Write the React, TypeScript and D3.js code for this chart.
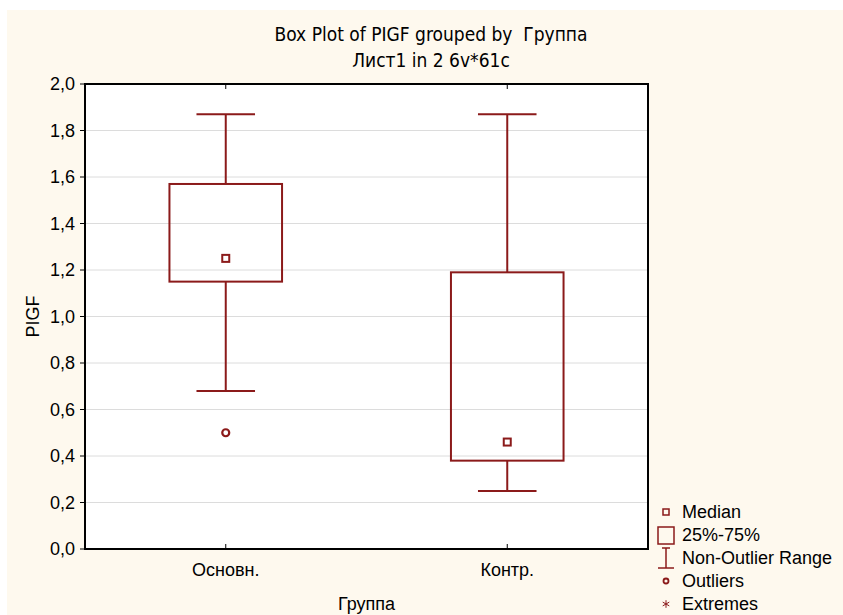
import React, { useRef, useEffect } from "react"
import * as d3 from "d3"

// data
const groups = ["Основн.", "Контр."]
const medians = [1.25, 0.46]
const q25 = [1.15, 0.38]
const q75 = [1.57, 1.19]
const whiskLow = [0.68, 0.25]
const whiskHigh = [1.87, 1.87]
const outliers = [[0.5], []]
const yTicks = [0, 0.2, 0.4, 0.6, 0.8, 1.0, 1.2, 1.4, 1.6, 1.8, 2.0]
const legendItems = ["Median", "25%-75%", "Non-Outlier Range", "Outliers", "Extremes"]

const W = 843
const H = 615
const RED = "#8b1a1a"
const FONT = "'Liberation Sans', Arial, sans-serif"
const NARROW = "'Liberation Sans Narrow', 'DejaVu Sans Condensed', sans-serif"

const App = () => {
    const ref = useRef<SVGSVGElement>(null)

    useEffect(() => {
        const svg = d3.select(ref.current)
        svg.selectAll("*").remove()

        const left = 85, right = 648, top = 84, bottom = 549

        const x = d3.scalePoint<string>().domain(groups).range([left, right]).padding(0.5)
        const y = d3.scaleLinear().domain([0, 2]).range([bottom, top])
        const fmt = (v: number) => d3.format(".1f")(v).replace(".", ",")
        const boxW = (right - left) * 0.2
        const capW = boxW * 0.52

        // page background
        svg.append("rect").attr("x", 7).attr("y", 10).attr("width", W - 7).attr("height", H - 10).attr("fill", "#fef9ee")

        // titles
        svg.append("text").attr("x", 431).attr("y", 41).attr("text-anchor", "middle")
            .style("font-family", NARROW).style("font-size", "19px").style("white-space", "pre")
            .text("Box Plot of PIGF grouped by  Группа")
        svg.append("text").attr("x", 431).attr("y", 67).attr("text-anchor", "middle")
            .style("font-family", NARROW).style("font-size", "19px").text("Лист1 in 2 6v*61c")

        // plot area
        svg.append("rect").attr("x", left).attr("y", top).attr("width", right - left).attr("height", bottom - top).attr("fill", "#fff")

        svg.append("g").selectAll("line").data(yTicks.slice(1, -1)).enter().append("line")
            .attr("x1", left).attr("x2", right).attr("y1", d => y(d)).attr("y2", d => y(d))
            .attr("stroke", "#dcdcdc").attr("stroke-width", 1)

        // y axis ticks + labels
        const yAxis = svg.append("g")
        yAxis.selectAll("line").data(yTicks).enter().append("line")
            .attr("x1", left - 5).attr("x2", left).attr("y1", d => y(d)).attr("y2", d => y(d))
            .attr("stroke", "#000")
        yAxis.selectAll("text").data(yTicks).enter().append("text")
            .attr("x", left - 10).attr("y", d => y(d)).attr("dy", "0.35em").attr("text-anchor", "end")
            .style("font-family", FONT).style("font-size", "18px").text(d => fmt(d))

        // x ticks (inward, top and bottom) + labels
        const xAxis = svg.append("g")
        xAxis.selectAll("line.b").data(groups).enter().append("line").attr("class", "b")
            .attr("x1", d => x(d)!).attr("x2", d => x(d)!).attr("y1", bottom).attr("y2", bottom - 5).attr("stroke", "#000")
        xAxis.selectAll("line.t").data(groups).enter().append("line").attr("class", "t")
            .attr("x1", d => x(d)!).attr("x2", d => x(d)!).attr("y1", top).attr("y2", top + 5).attr("stroke", "#000")
        xAxis.selectAll("text").data(groups).enter().append("text")
            .attr("x", d => x(d)!).attr("y", bottom + 27).attr("text-anchor", "middle")
            .style("font-family", FONT).style("font-size", "18px").text(d => d)

        svg.append("text").attr("x", (left + right) / 2).attr("y", 610).attr("text-anchor", "middle")
            .style("font-family", FONT).style("font-size", "18px").text("Группа")
        svg.append("text").attr("transform", `translate(39, ${(top + bottom) / 2}) rotate(-90)`)
            .attr("text-anchor", "middle").style("font-family", FONT).style("font-size", "18px").text("PIGF")

        // boxes
        const boxes = svg.append("g").selectAll("g").data(groups).enter().append("g")
        boxes.append("line")
            .attr("x1", d => x(d)!).attr("x2", d => x(d)!)
            .attr("y1", (d, i) => y(whiskHigh[i])).attr("y2", (d, i) => y(q75[i]))
            .attr("stroke", RED).attr("stroke-width", 2)
        boxes.append("line")
            .attr("x1", d => x(d)!).attr("x2", d => x(d)!)
            .attr("y1", (d, i) => y(q25[i])).attr("y2", (d, i) => y(whiskLow[i]))
            .attr("stroke", RED).attr("stroke-width", 2)
        boxes.append("line")
            .attr("x1", d => x(d)! - capW / 2).attr("x2", d => x(d)! + capW / 2)
            .attr("y1", (d, i) => y(whiskHigh[i])).attr("y2", (d, i) => y(whiskHigh[i]))
            .attr("stroke", RED).attr("stroke-width", 2)
        boxes.append("line")
            .attr("x1", d => x(d)! - capW / 2).attr("x2", d => x(d)! + capW / 2)
            .attr("y1", (d, i) => y(whiskLow[i])).attr("y2", (d, i) => y(whiskLow[i]))
            .attr("stroke", RED).attr("stroke-width", 2)
        boxes.append("rect")
            .attr("x", d => x(d)! - boxW / 2).attr("width", boxW)
            .attr("y", (d, i) => y(q75[i])).attr("height", (d, i) => y(q25[i]) - y(q75[i]))
            .attr("fill", "none").attr("stroke", RED).attr("stroke-width", 2)
        boxes.append("rect")
            .attr("x", d => x(d)! - 3.5).attr("width", 7)
            .attr("y", (d, i) => y(medians[i]) - 3.5).attr("height", 7)
            .attr("fill", "#fff").attr("stroke", RED).attr("stroke-width", 2)
        boxes.each(function (d, i) {
            d3.select(this).selectAll("circle").data(outliers[i]).enter().append("circle")
                .attr("cx", x(d)!).attr("cy", v => y(v)).attr("r", 3.5)
                .attr("fill", "none").attr("stroke", RED).attr("stroke-width", 2.2)
        })

        // plot frame
        svg.append("rect").attr("x", left).attr("y", top).attr("width", right - left).attr("height", bottom - top)
            .attr("fill", "none").attr("stroke", "#000").attr("stroke-width", 2)

        // legend
        const lx = 666, ly = 512, step = 23
        const legend = svg.append("g")
        legend.selectAll("text").data(legendItems).enter().append("text")
            .attr("x", 682).attr("y", (d, i) => ly + i * step).attr("dy", "0.35em")
            .style("font-family", FONT).style("font-size", "18px").text(d => d)
        legend.append("rect").attr("x", lx - 3).attr("y", ly - 3).attr("width", 6).attr("height", 6)
            .attr("fill", "none").attr("stroke", RED).attr("stroke-width", 1.5)
        legend.append("rect").attr("x", lx - 8).attr("y", ly + step - 8).attr("width", 16).attr("height", 17)
            .attr("fill", "none").attr("stroke", RED).attr("stroke-width", 1.5)
        const ry = ly + 2 * step
        legend.append("line").attr("x1", lx).attr("x2", lx).attr("y1", ry - 10).attr("y2", ry + 10).attr("stroke", RED).attr("stroke-width", 1.5)
        legend.append("line").attr("x1", lx - 4).attr("x2", lx + 4).attr("y1", ry - 10).attr("y2", ry - 10).attr("stroke", RED).attr("stroke-width", 1.5)
        legend.append("line").attr("x1", lx - 8).attr("x2", lx + 8).attr("y1", ry + 10).attr("y2", ry + 10).attr("stroke", RED).attr("stroke-width", 1.5)
        legend.append("circle").attr("cx", lx).attr("cy", ly + 3 * step).attr("r", 2.5)
            .attr("fill", "none").attr("stroke", RED).attr("stroke-width", 1.8)
        legend.append("path").attr("transform", `translate(${lx}, ${ly + 4 * step})`)
            .attr("d", d3.symbol(d3.symbolAsterisk, 40)())
            .attr("fill", "none").attr("stroke", RED).attr("stroke-width", 1)
    }, [])

    return (
        <svg ref={ref} width={W} height={H} style={{ position: "absolute", left: 0, top: 0, background: "#fff" }} />
    )
}

export default App
